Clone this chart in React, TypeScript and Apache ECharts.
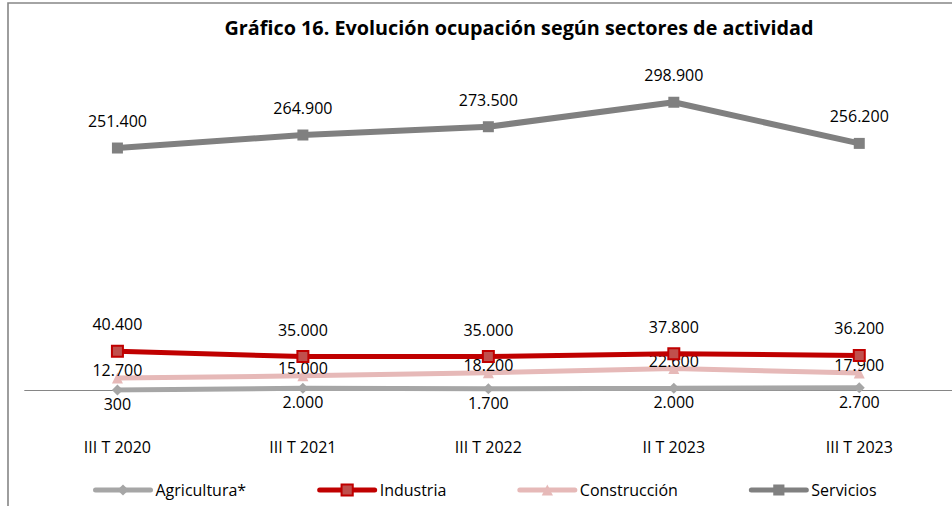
import React, { useEffect, useRef } from "react";
import * as echarts from "echarts";

const categories = ["III T 2020", "III T 2021", "III T 2022", "II T 2023", "III T 2023"];
const agricultura = [300, 2000, 1700, 2000, 2700];
const industria = [40400, 35000, 35000, 37800, 36200];
const construccion = [12700, 15000, 18200, 22600, 17900];
const servicios = [251400, 264900, 273500, 298900, 256200];

const TITLE = "Gráfico 16. Evolución ocupación según sectores de actividad";
const FONT = "'Open Sans', 'Noto Sans', sans-serif";

const fmt = (v: number) => String(Math.round(v)).replace(/\B(?=(\d{3})+(?!\d))/g, ".");

export default function App() {
  const ref = useRef<HTMLDivElement>(null);
  useEffect(() => {
    if (!ref.current) return;
    const chart = echarts.init(ref.current, null, { renderer: "svg" });
    const label = (dy: number) => ({
      show: true,
      position: "inside",
      offset: [0, dy],
      color: "#000",
      fontFamily: FONT,
      fontSize: 16,
      formatter: (p: any) => fmt(p.value),
    });
    chart.setOption({
      animation: false,
      backgroundColor: "#fff",
      title: {
        text: TITLE,
        left: 514,
        textAlign: "center",
        top: 12,
        textStyle: { fontFamily: FONT, fontSize: 19.8, fontWeight: "bold", color: "#000" },
      },
      graphic: [
        {
          type: "rect",
          shape: { x: 8, y: 3, width: 1000, height: 600 },
          style: { fill: "none", stroke: "#868686", lineWidth: 1.6 },
          silent: true,
        },
      ],
      legend: {
        left: 93,
        top: 482,
        padding: 0,
        itemWidth: 55,
        itemHeight: 14,
        itemGap: 71,
        lineStyle: { width: 5, cap: "round" },
        textStyle: { fontFamily: FONT, fontSize: 16, color: "#000" },
        data: ["Agricultura*", "Industria", "Construcción", "Servicios"],
      },
      grid: { left: 24.7, right: -5.9, top: 53, bottom: 115.7, containLabel: false },
      xAxis: {
        type: "category",
        data: categories,
        boundaryGap: true,
        axisLine: { show: true, lineStyle: { color: "#868686", width: 1 } },
        axisTick: { show: false },
        axisLabel: { margin: 49, fontFamily: FONT, fontSize: 16, color: "#000" },
      },
      yAxis: {
        type: "value",
        min: 0,
        max: 350000,
        show: false,
        splitLine: { show: false },
      },
      series: [
        {
          name: "Agricultura*",
          type: "line",
          data: agricultura,
          symbol: "diamond",
          symbolSize: 11,
          color: "#A6A6A6",
          lineStyle: { color: "#A6A6A6", width: 5 },
          itemStyle: { color: "#A6A6A6" },
          label: label(14),
          z: 2,
        },
        {
          name: "Industria",
          type: "line",
          data: industria,
          symbol: "rect",
          symbolSize: 11,
          color: "#C00000",
          lineStyle: { color: "#C00000", width: 5 },
          itemStyle: { color: "#C0504D", borderColor: "#C00000", borderWidth: 2 },
          label: label(-27),
          z: 4,
        },
        {
          name: "Construcción",
          type: "line",
          data: construccion,
          symbol: "triangle",
          symbolSize: 11,
          color: "#E6B9B8",
          lineStyle: { color: "#E6B9B8", width: 5 },
          itemStyle: { color: "#E6B9B8" },
          label: label(-8),
          z: 3,
        },
        {
          name: "Servicios",
          type: "line",
          data: servicios,
          symbol: "rect",
          symbolSize: 11,
          color: "#808080",
          lineStyle: { color: "#808080", width: 6 },
          itemStyle: { color: "#808080" },
          label: label(-27),
          z: 5,
        },
      ],
    });
    return () => chart.dispose();
  }, []);
  return (
    <div
      ref={ref}
      style={{ position: "fixed", left: 0, top: 0, width: 952, height: 506, overflow: "hidden" }}
    />
  );
}
